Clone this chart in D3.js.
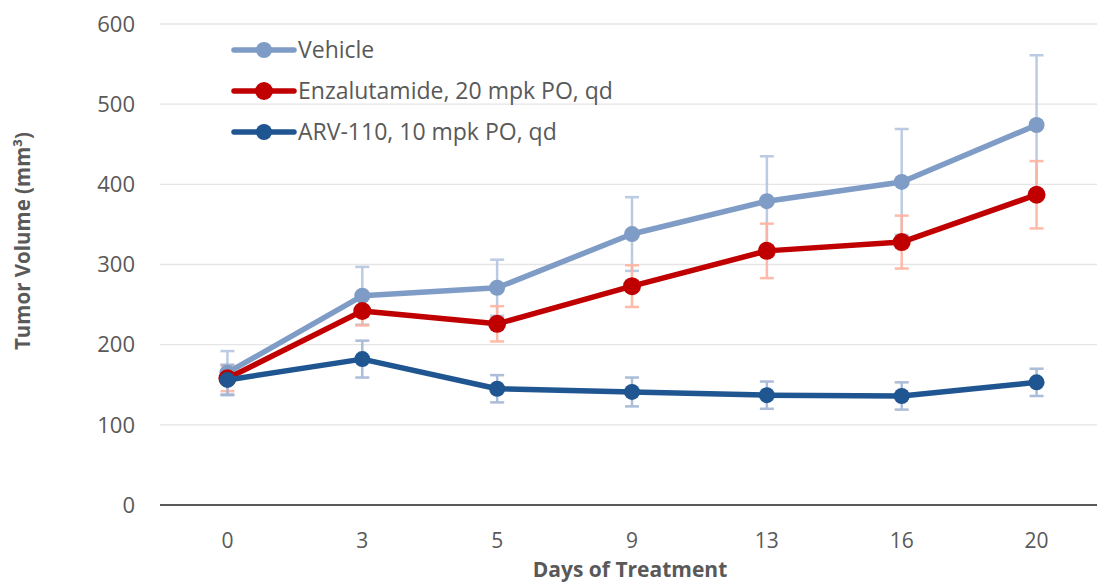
<!DOCTYPE html>
<html lang="en">
<head>
  <meta charset="utf-8">
  <title>Tumor Volume</title>
  <script src="https://d3js.org/d3.v7.min.js"></script>
  <style>
    body { margin: 0; background: #fff; }
    svg text { font-family: "Open Sans", sans-serif; fill: #595959; }
    .grid line { stroke: #e5e5e5; stroke-width: 1.3px; }
  </style>
</head>
<body>
  <svg width="1097" height="582"></svg>
  <script>
    // data
    var days = ["0", "3", "5", "9", "13", "16", "20"];
    var yTicks = [0, 100, 200, 300, 400, 500, 600];

    var vehicle = [165, 261, 271, 338, 379, 403, 474];
    var vehicleErr = [27, 36, 35, 46, 56, 66, 87];

    var enza = [158, 242, 226, 273, 317, 328, 387];
    var enzaErr = [16, 18, 22, 26, 34, 33, 42];

    var arv = [156, 182, 145, 141, 137, 136, 153];
    var arvErr = [19, 23, 17, 18, 17, 17, 17];

    var series = [
      { name: "Vehicle", values: vehicle, err: vehicleErr, color: "#7f9cc6", errColor: "#b4c6e2", r: 8 },
      { name: "Enzalutamide, 20 mpk PO, qd", values: enza, err: enzaErr, color: "#c00000", errColor: "#ffb3a0", r: 9 },
      { name: "ARV-110, 10 mpk PO, qd", values: arv, err: arvErr, color: "#1f5590", errColor: "#a3b6d4", r: 8 }
    ];

    var svg = d3.select("svg");
    var plotLeft = 160, plotRight = 1104, plotTop = 24, plotBottom = 505;

    var x = d3.scalePoint().domain(days).range([plotLeft, plotRight]).padding(0.5);
    var y = d3.scaleLinear().domain([0, 600]).range([plotBottom, plotTop]);

    // gridlines
    svg.append("g").attr("class", "grid")
      .selectAll("line")
      .data(yTicks.filter(function (d) { return d > 0; }))
      .enter().append("line")
      .attr("x1", plotLeft).attr("x2", plotRight)
      .attr("y1", function (d) { return y(d); })
      .attr("y2", function (d) { return y(d); });

    // x axis line
    svg.append("line")
      .attr("x1", plotLeft).attr("x2", plotRight)
      .attr("y1", y(0)).attr("y2", y(0))
      .attr("stroke", "#595959").attr("stroke-width", 2);

    // y tick labels
    svg.append("g").selectAll("text")
      .data(yTicks).enter().append("text")
      .attr("x", 135).attr("y", function (d) { return y(d); })
      .attr("dy", "0.35em")
      .attr("text-anchor", "end")
      .style("font-size", "22px")
      .text(function (d) { return d; });

    // x tick labels
    svg.append("g").selectAll("text")
      .data(days).enter().append("text")
      .attr("x", function (d) { return x(d); }).attr("y", 548)
      .attr("text-anchor", "middle")
      .style("font-size", "21px")
      .text(function (d) { return d; });

    // axis titles
    svg.append("text")
      .attr("x", 630).attr("y", 577)
      .attr("text-anchor", "middle")
      .style("font-size", "21px").style("font-weight", "bold")
      .text("Days of Treatment");

    svg.append("text")
      .attr("transform", "translate(30,241) rotate(-90)")
      .attr("text-anchor", "middle")
      .style("font-size", "20.5px").style("font-weight", "bold")
      .text("Tumor Volume (mm³)");

    // error bars
    series.forEach(function (s) {
      var g = svg.append("g")
        .attr("stroke", s.errColor).attr("stroke-width", 2.5).attr("opacity", 0.9);
      days.forEach(function (d, i) {
        var cx = x(d), hi = y(s.values[i] + s.err[i]), lo = y(s.values[i] - s.err[i]);
        g.append("line").attr("x1", cx).attr("x2", cx).attr("y1", hi).attr("y2", lo);
        g.append("line").attr("x1", cx - 7).attr("x2", cx + 7).attr("y1", hi).attr("y2", hi);
        g.append("line").attr("x1", cx - 7).attr("x2", cx + 7).attr("y1", lo).attr("y2", lo);
      });
    });

    var line = d3.line()
      .x(function (d, i) { return x(days[i]); })
      .y(function (d) { return y(d); });

    // lines and markers
    series.forEach(function (s) {
      svg.append("path")
        .datum(s.values)
        .attr("fill", "none")
        .attr("stroke", s.color)
        .attr("stroke-width", 5.5)
        .attr("stroke-linejoin", "round")
        .attr("d", line);
      svg.append("g").selectAll("circle")
        .data(s.values).enter().append("circle")
        .attr("cx", function (d, i) { return x(days[i]); })
        .attr("cy", function (d) { return y(d); })
        .attr("r", s.r)
        .attr("fill", s.color);
    });

    // legend
    var legend = svg.append("g").selectAll("g")
      .data(series).enter().append("g")
      .attr("transform", function (d, i) { return "translate(234," + (50 + i * 41) + ")"; });
    legend.append("line")
      .attr("x1", 0).attr("x2", 60)
      .attr("stroke", function (d) { return d.color; })
      .attr("stroke-width", 5.5).attr("stroke-linecap", "round");
    legend.append("circle")
      .attr("cx", 30).attr("r", function (d) { return d.r; })
      .attr("fill", function (d) { return d.color; });
    legend.append("text")
      .attr("x", 64).attr("dy", "0.35em")
      .style("font-size", "23px")
      .text(function (d) { return d.name; });
  </script>
</body>
</html>
